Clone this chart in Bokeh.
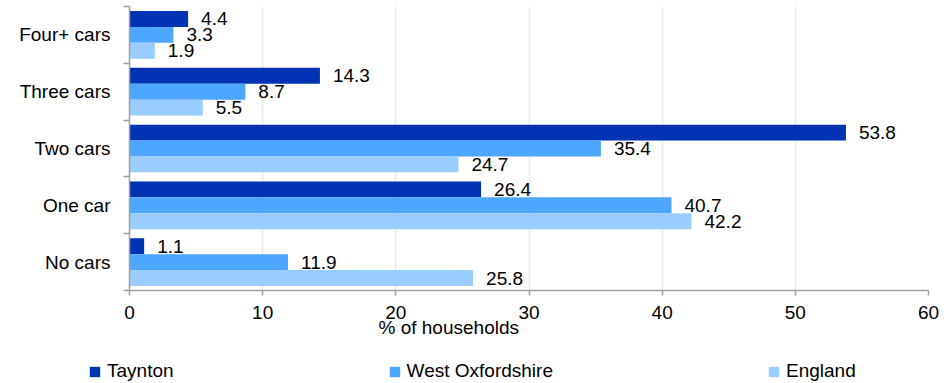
from bokeh.plotting import figure
from bokeh.layouts import column, row
from bokeh.models import FixedTicker, Legend, LegendItem, Range1d, Title
from bokeh.core.properties import value
from bokeh.embed import file_html
from bokeh.resources import INLINE

# ---- data ----
categories = ["No cars", "One car", "Two cars", "Three cars", "Four+ cars"]
series = ["Taynton", "West Oxfordshire", "England"]
taynton = [1.1, 26.4, 53.8, 14.3, 4.4]
west_oxfordshire = [11.9, 40.7, 35.4, 8.7, 3.3]
england = [25.8, 42.2, 24.7, 5.5, 1.9]
x_ticks = [0, 10, 20, 30, 40, 50, 60]
x_title = "% of households"

values_by_series = [taynton, west_oxfordshire, england]
colors = ["#0032b4", "#4da6ff", "#99ccff"]

FONT = "Liberation Sans"
FS = "19px"

p = figure(width=947, height=352, output_backend="svg", toolbar_location=None,
           x_range=Range1d(0, 60), y_range=Range1d(0.5, len(categories) + 0.5),
           min_border_left=129, min_border_right=19, min_border_top=6,
           min_border_bottom=62)
p.outline_line_color = None
p.background_fill_color = "white"

bar_h = 0.28
offsets = [bar_h, 0.0, -bar_h]
centers = list(range(1, len(categories) + 1))

for vals, off, col in zip(values_by_series, offsets, colors):
    ys = [c + off for c in centers]
    p.hbar(y=ys, left=0, right=vals, height=bar_h, fill_color=col, line_color=None)
    p.text(x=vals, y=ys, text=[f"{v:.1f}" for v in vals], x_offset=13,
           text_align="left", text_baseline="middle", text_font=value(FONT),
           text_font_size=FS, text_color="#000000")

# axes
axis_col = "#a0a0a0"
p.yaxis.ticker = FixedTicker(ticks=centers,
                             minor_ticks=[c - 0.5 for c in centers] + [centers[-1] + 0.5])
p.yaxis.major_label_overrides = {c: cat for c, cat in zip(centers, categories)}
p.yaxis.major_tick_out = 0
p.yaxis.major_tick_in = 0
p.yaxis.minor_tick_out = 6
p.yaxis.minor_tick_in = 0
p.yaxis.major_label_standoff = 13

p.xaxis.ticker = FixedTicker(ticks=x_ticks, minor_ticks=[])
p.xaxis.major_tick_out = 5
p.xaxis.major_tick_in = 0
p.xaxis.major_label_standoff = 10

for ax in (p.xaxis, p.yaxis):
    ax.axis_line_color = axis_col
    ax.axis_line_width = 1.5
    ax.major_tick_line_color = axis_col
    ax.major_tick_line_width = 1.5
    ax.minor_tick_line_color = axis_col
    ax.minor_tick_line_width = 1.5
    ax.major_label_text_font = FONT
    ax.major_label_text_font_size = FS
    ax.major_label_text_color = "#000000"

p.xgrid.ticker = FixedTicker(ticks=x_ticks)
p.xgrid.grid_line_color = "#e8e8e8"
p.xgrid.grid_line_width = 1.5
p.ygrid.grid_line_color = None

# x-axis title (offset to sit where the reference has it)
p.add_layout(Title(text=x_title, align="left", offset=249, standoff=-13,
                   text_font=FONT, text_font_size=FS, text_font_style="normal",
                   text_color="#000000"), "below")

# ---- legend strip (its renderers sit outside its visible range) ----
lg = figure(width=947, height=31, output_backend="svg", toolbar_location=None,
            x_axis_type=None, y_axis_type=None, x_range=Range1d(0, 60),
            y_range=Range1d(100, 101),
            min_border_left=0, min_border_right=0, min_border_top=0, min_border_bottom=0)
lg.outline_line_color = None
lg.xgrid.visible = False
lg.ygrid.visible = False
dummies = [lg.hbar(y=centers, left=0, right=vals, height=bar_h, fill_color=c, line_color=None)
           for vals, c in zip(values_by_series, colors)]
legend = Legend(items=[LegendItem(label=s, renderers=[r]) for s, r in zip(series, dummies)],
                orientation="horizontal", location=(88, 1), spacing=214,
                label_standoff=6, glyph_width=13, glyph_height=13, padding=0, margin=0,
                border_line_color=None, background_fill_alpha=0,
                label_text_font=FONT, label_text_font_size=FS, label_text_color="#000000")
lg.add_layout(legend, "center")

open("out.html", "w").write(file_html(column(p, row(lg, spacing=0), spacing=0), INLINE))
